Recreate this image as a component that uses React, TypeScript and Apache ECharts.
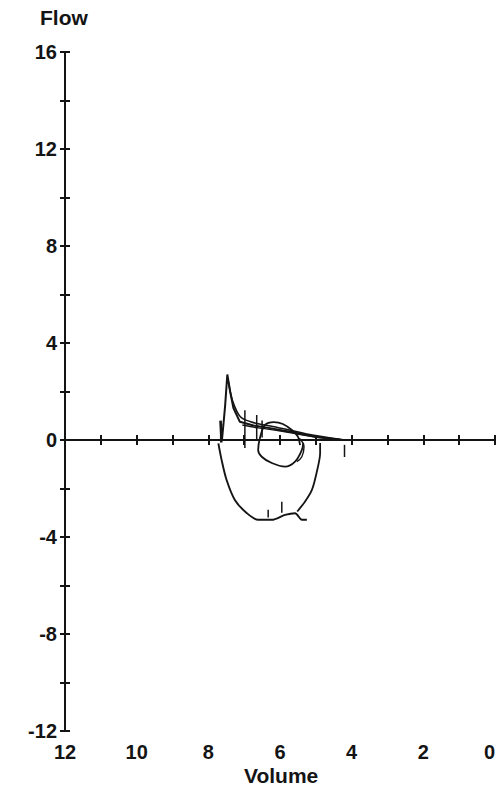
import React, { useEffect, useRef } from "react";
import * as echarts from "echarts";

// ---- Data (volume, flow) ----
const xTickLabels = [0, 2, 4, 6, 8, 10, 12];
const yLabelValues = [-12, -8, -4, 0, 4, 8, 12, 16];

// expiratory strands
const expiratoryMain: [number, number][] = [
  [7.62, 0.0], [7.58, 0.62], [7.53, 1.44], [7.47, 2.7], [7.39, 1.99], [7.3, 1.32],
  [7.12, 0.75], [6.74, 0.6], [6.28, 0.49], [5.72, 0.34], [4.98, 0.12], [4.24, 0.0],
];
const expiratory2: [number, number][] = [
  [7.44, 2.4], [7.32, 1.6], [7.1, 0.95], [6.7, 0.7], [6.2, 0.56], [5.7, 0.4], [5.1, 0.2], [4.33, 0.03],
];
const expiratory3: [number, number][] = [
  [7.05, 0.62], [6.6, 0.5], [6.1, 0.4], [5.5, 0.25], [4.9, 0.1], [4.15, 0.0],
];
const leftStroke: [number, number][] = [
  [7.66, 0.8], [7.64, 0.2], [7.64, -0.1],
];
// big inspiratory loop
const inspiratoryLeft: [number, number][] = [
  [7.72, -0.14], [7.63, -0.82], [7.49, -1.65], [7.26, -2.47], [6.93, -3.01], [6.61, -3.29],
  [6.23, -3.29], [5.86, -3.09], [5.58, -3.02], [5.39, -3.29], [5.25, -3.29],
];
const inspiratoryRight: [number, number][] = [
  [5.52, -2.95], [5.3, -2.54], [5.11, -2.06], [4.98, -1.36], [4.88, -0.53], [4.88, -0.12],
];
// small loop
const smallLoop: [number, number][] = [
  [5.35, -0.12], [5.39, -0.41], [5.58, -0.89], [5.86, -1.1], [6.23, -0.95], [6.51, -0.69],
  [6.61, -0.41], [6.56, 0.08], [6.42, 0.62], [6.17, 0.74], [5.92, 0.66], [5.67, 0.41],
  [5.5, 0.14], [5.44, -0.21],
];
const innerArc: [number, number][] = [
  [5.46, 0.07], [5.33, -0.28], [5.39, -0.69], [5.53, -0.89],
];
// vertical marker strokes: [volume, flowFrom, flowTo]
const markers: [number, number, number][] = [
  [6.98, 1.23, -0.33], [6.65, 1.03, 0.0], [6.5, 0.8, 0.1], [6.33, -2.88, -3.2],
  [5.95, -2.55, -3.0], [4.2, -0.2, -0.7],
];

const INK = "#141414";
const FONT = "'Liberation Sans', Arial, sans-serif";

export default function App() {
  const ref = useRef<HTMLDivElement>(null);
  useEffect(() => {
    if (!ref.current) return;
    const chart = echarts.init(ref.current, undefined, { renderer: "svg" });
    const curve = (data: [number, number][], smooth: number | boolean = 0.25, width = 1.8) => ({
      type: "line",
      xAxisIndex: 1,
      yAxisIndex: 0,
      data,
      smooth,
      symbol: "none",
      lineStyle: { color: INK, width },
      z: 5,
    });
    const series: any[] = [
      curve(expiratoryMain, false, 2),
      curve(expiratory2, 0.3, 1.6),
      curve(expiratory3, 0.3, 1.5),
      curve(leftStroke, false, 2.6),
      curve(inspiratoryLeft, 0.3, 1.9),
      curve(inspiratoryRight, 0.3, 1.8),
      curve(smallLoop, 0.35, 1.8),
      curve(innerArc, 0.4, 1.4),
      ...markers.map((m) => curve([[m[0], m[1]], [m[0], m[2]]], false, 1.5)),
    ];
    const yBase = {
      type: "value",
      min: -12,
      max: 16,
      interval: 2,
      position: "left",
      splitLine: { show: false },
    };
    const xBase = {
      type: "value",
      min: 0,
      max: 12,
      inverse: true,
      position: "bottom",
      splitLine: { show: false },
    };
    chart.setOption({
      animation: false,
      grid: { left: 65, right: 4, top: 52, bottom: 62, containLabel: false, outerBoundsMode: "none" },
      xAxis: [
        {
          ...xBase,
          interval: 2,
          axisLine: { show: false, onZero: false },
          axisTick: { show: false },
          axisLabel: {
            show: true,
            margin: 11,
            color: INK,
            fontFamily: FONT,
            fontWeight: "bold",
            fontSize: 20,
            alignMinLabel: "right",
            formatter: (v: number) => (xTickLabels.includes(v) ? String(v) : ""),
          },
        },
        {
          ...xBase,
          interval: 1,
          axisLine: { show: true, onZero: true, onZeroAxisIndex: 0, lineStyle: { color: INK, width: 2 } },
          axisTick: { show: true, inside: false, length: 5, lineStyle: { color: INK, width: 2 } },
          axisLabel: { show: false },
        },
        {
          ...xBase,
          interval: 1,
          axisLine: { show: false, onZero: true, onZeroAxisIndex: 1 },
          axisTick: { show: true, inside: true, length: 5, lineStyle: { color: INK, width: 2 } },
          axisLabel: { show: false },
        },
      ],
      yAxis: [
        {
          ...yBase,
          axisLine: { show: true, onZero: false, lineStyle: { color: INK, width: 2 } },
          axisTick: { show: true, inside: false, length: 5, lineStyle: { color: INK, width: 2 } },
          axisLabel: {
            show: true,
            margin: 8,
            color: INK,
            fontFamily: FONT,
            fontWeight: "bold",
            fontSize: 20,
            formatter: (v: number) => (yLabelValues.includes(v) ? String(v) : ""),
          },
        },
        {
          ...yBase,
          axisLine: { show: false, onZero: false },
          axisTick: { show: true, inside: true, length: 5, lineStyle: { color: INK, width: 2 } },
          axisLabel: { show: false },
        },
      ],
      graphic: [
        {
          type: "text",
          left: 40,
          top: 7,
          style: { text: "Flow", fill: INK, font: `bold 21px ${FONT}` },
        },
        {
          type: "text",
          left: 244,
          top: 765,
          style: { text: "Volume", fill: INK, font: `bold 21px ${FONT}` },
        },
      ],
      series,
    });
    return () => chart.dispose();
  }, []);
  return (
    <div
      ref={ref}
      style={{ position: "fixed", left: 0, top: 0, width: 499, height: 793, background: "#fff" }}
    />
  );
}
